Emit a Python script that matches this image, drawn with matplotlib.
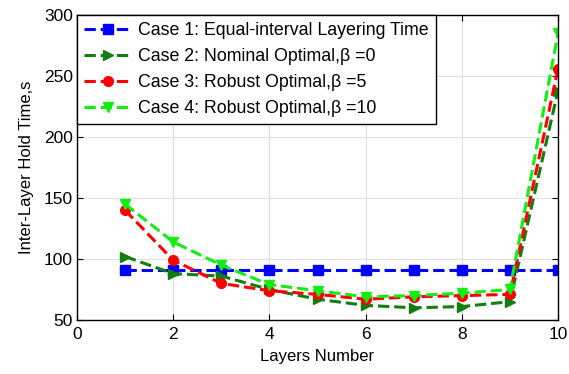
import matplotlib
matplotlib.use("Agg")
import matplotlib.pyplot as plt
import numpy as np

plt.rcParams['font.family'] = ['Liberation Sans', 'DejaVu Sans']

layers = [1, 2, 3, 4, 5, 6, 7, 8, 9, 10]
case1 = [91, 91, 91, 91, 91, 91, 91, 91, 91, 91]
case2 = [102, 88, 86, 75, 67, 62, 60, 61, 65, 238]
case3 = [140, 99, 80, 74, 71, 67, 69, 70, 71, 256]
case4 = [145, 114, 95, 79, 74, 69, 70, 72, 75, 285]

labels = [
    "Case 1: Equal-interval Layering Time",
    "Case 2: Nominal Optimal,\u03b2 =0",
    "Case 3: Robust Optimal,\u03b2 =5",
    "Case 4: Robust Optimal,\u03b2 =10",
]

fig = plt.figure(figsize=(5.69, 3.74), dpi=100)
ax = fig.add_axes([0.1353, 0.1444, 0.8454, 0.8156])

ax.plot(layers, case1, '--s', color='#0000ff', lw=2.2, ms=6.5, label=labels[0])
ax.plot(layers, case2, '-->', color='#107f10', lw=2.2, ms=7, label=labels[1])
ax.plot(layers, case3, '--o', color='#ff0000', lw=2.2, ms=7, label=labels[2])
ax.plot(layers, case4, '--v', color='#11ee11', lw=2.2, ms=7.5, label=labels[3])

ax.set_xlim(0, 10)
ax.set_ylim(50, 300)
ax.set_xticks([0, 2, 4, 6, 8, 10])
ax.set_yticks([50, 100, 150, 200, 250, 300])
ax.grid(True, color='#e0e0e0', lw=0.8)
ax.tick_params(direction='in', top=True, right=True, labelsize=12.5, length=4)
ax.tick_params(axis='x', pad=5)
ax.tick_params(axis='y', pad=3)
for s in ax.spines.values():
    s.set_linewidth(1.0)
    s.set_color('black')

ax.set_xlabel("Layers Number", fontsize=12, labelpad=5)
ax.set_ylabel("Inter-Layer Hold Time,s", fontsize=12, labelpad=7)

leg = ax.legend(loc='upper left', fontsize=12.8, fancybox=False, framealpha=1,
                edgecolor='black', borderaxespad=0, handlelength=2.7,
                borderpad=0.4, labelspacing=0.5, handletextpad=0.35)
leg.get_frame().set_linewidth(1.0)

fig.savefig("out.png", dpi=100)
